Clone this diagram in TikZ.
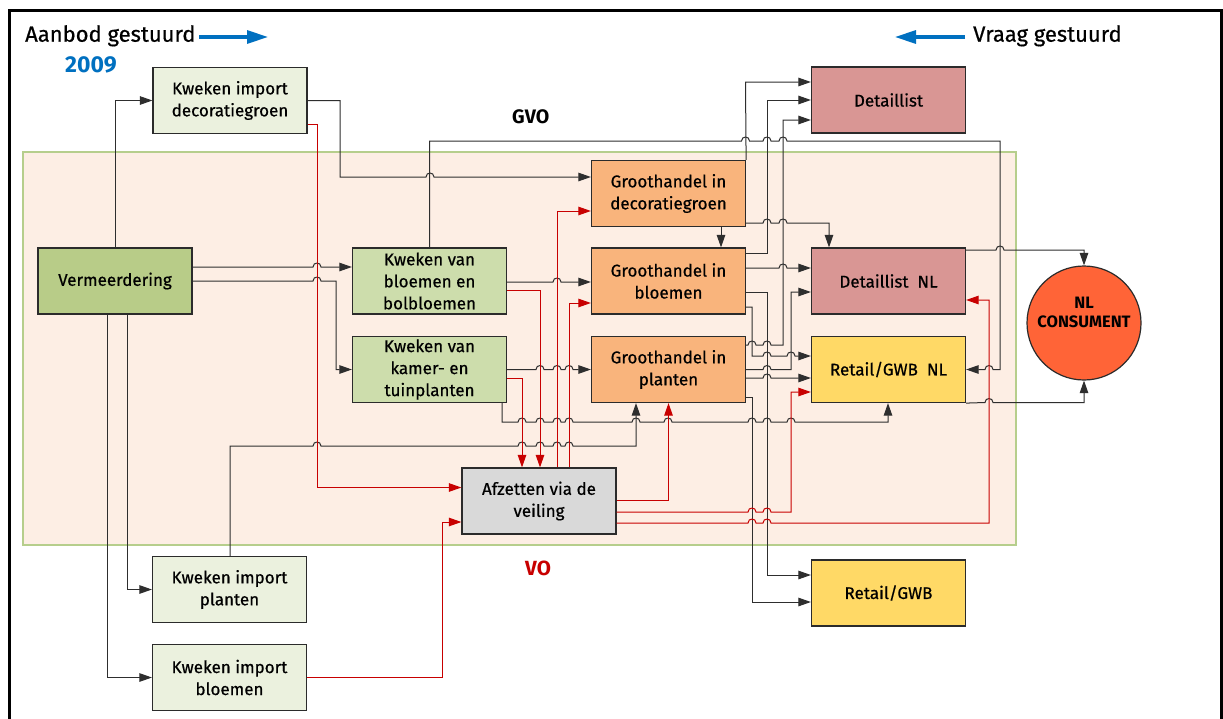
\documentclass[tikz,border=0pt]{standalone}
\usepackage{fontspec}
\setmainfont{Fira Sans}[UprightFeatures={FakeBold=0.6}]
\usetikzlibrary{arrows.meta}
\definecolor{zone}{HTML}{FDEEE4}
\definecolor{zoneline}{HTML}{B6CE8C}
\definecolor{imp}{HTML}{EBF1DE}
\definecolor{verm}{HTML}{B8CC88}
\definecolor{kweek}{HTML}{CDDDAC}
\definecolor{groot}{HTML}{F9B47C}
\definecolor{detail}{HTML}{D99694}
\definecolor{retail}{HTML}{FFD966}
\definecolor{veil}{HTML}{D9D9D9}
\definecolor{cons}{HTML}{FF6437}
\definecolor{boxline}{HTML}{2B2B2B}
\definecolor{lineblk}{HTML}{2E2E2E}
\definecolor{linered}{HTML}{C80000}
\definecolor{headblue}{HTML}{0070C0}
% small semicircular hop over a crossing line (rightward / leftward)
\newcommand\hopr[2]{-- ({#1-4},{#2}) .. controls ({#1-4},{#2-5.3}) and ({#1+4},{#2-5.3}) .. ({#1+4},{#2})}
\newcommand\hopl[2]{-- ({#1+4},{#2}) .. controls ({#1+4},{#2-5.3}) and ({#1-4},{#2-5.3}) .. ({#1-4},{#2})}
\tikzset{
  box/.style={draw=boxline, line width=1.2pt, minimum width=154pt, minimum height=66pt,
    inner sep=0pt, align=center, font=\fontsize{17}{22}\selectfont, text=black},
  blk/.style={draw=lineblk, line width=1pt, -{Triangle[length=12.5pt,width=8.5pt]}},
  rl/.style={draw=linered, line width=1pt, -{Triangle[length=12.5pt,width=8.5pt]}},
  barrow/.style={draw=headblue, line width=3.2pt, -{Triangle[length=21pt,width=13pt]}},
  head/.style={anchor=base west, inner sep=0pt, font=\fontsize{22}{24}\selectfont},
}
\begin{document}
\begin{tikzpicture}[x=1pt,y=-1pt]
\useasboundingbox (0,0) rectangle (1223,718);
\fill[white] (0,0) rectangle (1223,718);
\draw[black, line width=3pt] (9,10) rectangle (1221,740);
\draw[zoneline, fill=zone, line width=1.5pt] (23,152) rectangle (1016,545);

% headings
\node[head] (aanbod) at (25,41.7) {Aanbod gestuurd};
\coordinate (ab1) at (199,37);
\coordinate (ab2) at (268,37);
\draw[barrow] (ab1) -- (ab2);
\node[head] (vraag) at (973,41.7) {Vraag gestuurd};
\coordinate (vr1) at (965,37);
\coordinate (vr2) at (895,37);
\draw[barrow] (vr1) -- (vr2);
\node[head, font=\fontsize{23}{24}\selectfont\bfseries, text=headblue] (jaar) at (65,72.7) {2009};
\node[head, font=\fontsize{19.5}{22}\selectfont\bfseries] (gvo) at (512,123.3) {GVO};
\node[head, font=\fontsize{20.5}{22}\selectfont\bfseries, text=linered] (vo) at (525,575) {VO};

% nodes
\node[box, fill=imp] (kid) at (230,100.5) {Kweken import\\decoratiegroen};
\node[box, fill=verm] (ver) at (115,281) {Vermeerdering};
\node[box, fill=kweek] (kvb) at (429.5,281) {Kweken van\\bloemen en\\bolbloemen};
\node[box, fill=kweek] (kvk) at (429.5,369.5) {Kweken van\\kamer- en\\tuinplanten};
\node[box, fill=groot] (ghd) at (668.5,193.5) {Groothandel in\\decoratiegroen};
\node[box, fill=groot] (ghb) at (668.5,281) {Groothandel in\\bloemen};
\node[box, fill=groot] (ghp) at (668.5,369.5) {Groothandel in\\planten};
\node[box, fill=detail] (det) at (888.5,100) {Detaillist};
\node[box, fill=detail] (dnl) at (888.5,281) {Detaillist\ \ NL};
\node[box, fill=retail] (rnl) at (888.5,369.5) {Retail/GWB\ \ NL};
\node[box, fill=retail] (rgw) at (888.5,593) {Retail/GWB};
\node[box, fill=veil] (afz) at (539,501) {Afzetten via de\\veiling};
\node[box, fill=imp] (kip) at (229.5,589.5) {Kweken import\\planten};
\node[box, fill=imp] (kib) at (229.5,677.5) {Kweken import\\bloemen};
\node[circle, draw=boxline, line width=1.2pt, fill=cons, minimum size=114pt, inner sep=0pt] (nlc) at (1084,323) {};
\node[align=center, inner sep=0pt, font=\fontsize{16.5}{19}\selectfont\bfseries] (nlct) at (1084,312) {NL\\CONSUMENT};

% black flows
\draw[blk] (ver.north) |- (kid.west);
\draw[blk] (ver.east |- 0,267) \hopr{317}{267} -- (kvb.west |- 0,267);
\draw[blk] (ver.east |- 0,281) \hopr{317}{281} -- (336,281) |- (kvk.west);
\draw[blk] (ver.south -| 107,0) |- (kib.west);
\draw[blk] (ver.south -| 127,0) |- (kip.west);
\draw[blk] (kid.east) -- (340,100.5) -- (340,177) \hopr{430}{177} -- (ghd.west |- 0,177);
\draw[blk] (kvb.north) -- (kvb.north |- 0,141) \hopr{745.5}{141} \hopr{767}{141} \hopr{783}{141}
  -- (1000,141) -- (1000,369.5) \hopl{989}{369.5} -- (rnl.east);
\draw[blk] (kvb.east |- 0,282) \hopr{557}{282} -- (ghb.west |- 0,282);
\draw[blk] (kvk.east) \hopr{540}{369.5} \hopr{557}{369.5} \hopr{569}{369.5} -- (ghp.west);
\draw[blk] (kvk.south -| 502,0) -- (502,422) \hopr{522}{422} \hopr{540}{422} \hopr{557}{422}
  \hopr{569}{422} \hopr{636}{422} \hopr{668}{422} \hopr{752}{422} \hopr{767}{422} \hopr{791}{422}
  -- (888,422) -- (rnl.south -| 888,0);
\draw[blk] (kip.north -| 230,0) -- (230,446) \hopr{317}{446} \hopr{522}{446} \hopr{540}{446}
  \hopr{557}{446} \hopr{569}{446} -- (636,446) -- (ghp.south -| 636,0);
\draw[blk] (ghd.south -| 721,0) -- (ghb.north -| 721,0);
\draw[blk] (ghd.east |- 0,223) \hopr{767}{223} \hopr{783}{223} -- (829,223) -- (dnl.north -| 829,0);
\draw[blk] (ghd.north east) -- (745.5,82) -- (det.west |- 0,82);
\draw[blk] (ghb.east |- 0,253) -- (767,253) -- (767,100) -- (det.west);
\draw[blk] (ghb.east |- 0,268) \hopr{783}{268} -- (dnl.west |- 0,268);
\draw[blk] (ghb.east |- 0,292) -- (767,292) -- (767,575) -- (rgw.west |- 0,575);
\draw[blk] (ghb.east |- 0,307) -- (752,307) -- (752,356) \hopr{767}{356} \hopr{791}{356} -- (rnl.west |- 0,356);
\draw[blk] (ghp.east |- 0,345) \hopr{752}{345} \hopr{767}{345} -- (783,345) -- (783,120) -- (det.west |- 0,120);
\draw[blk] (ghp.east) \hopr{767}{369.5} -- (791,369.5) -- (791,292) -- (dnl.west |- 0,292);
\draw[blk] (ghp.east |- 0,378) \hopr{767}{378} -- (rnl.west |- 0,378);
\draw[blk] (ghp.east |- 0,397) -- (752,397) -- (752,602) -- (rgw.west |- 0,602);
\draw[blk] (dnl.east |- 0,250) \hopr{1000}{250} -- (1084,250) -- (nlc.north);
\draw[blk] (rnl.south east) \hopr{989}{402.5} -- (1084,402.5) -- (nlc.south);

% red flows through the auction
\draw[rl] (kid.east |- 0,124) -- (317,124) -- (317,487.5) -- (afz.west |- 0,487.5);
\draw[rl] (kvb.east |- 0,290) -- (540,290) -- (afz.north -| 540,0);
\draw[rl] (kvk.east |- 0,378) -- (522,378) -- (afz.north -| 522,0);
\draw[rl] (kib.east) -- (442,677.5) -- (442,522) -- (afz.west |- 0,522);
\draw[rl] (afz.north -| 557,0) -- (557,211) -- (ghd.west |- 0,211);
\draw[rl] (afz.north -| 569,0) -- (569,303) -- (ghb.west |- 0,303);
\draw[rl] (afz.east |- 0,500) -| (ghp.south);
\draw[rl] (afz.east |- 0,512) \hopr{752}{512} \hopr{767}{512} -- (791,512) -- (791,392) -- (rnl.west |- 0,392);
\draw[rl] (afz.east |- 0,523) \hopr{752}{523} \hopr{767}{523} -- (989,523) -- (989,300) -- (dnl.east |- 0,300);
\end{tikzpicture}
\end{document}
